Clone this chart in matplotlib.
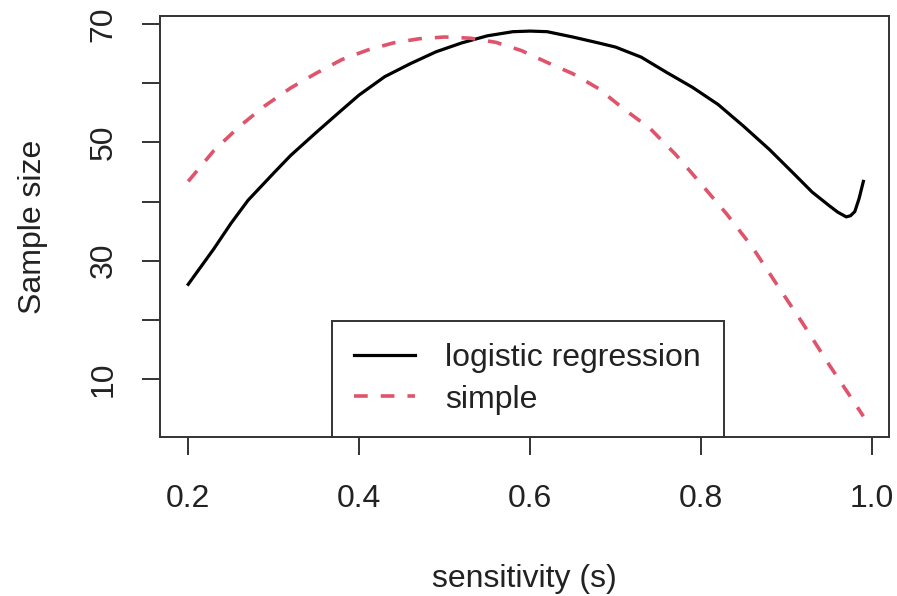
import matplotlib
matplotlib.use("Agg")
import matplotlib.pyplot as plt

plt.rcParams['font.family'] = ['Liberation Sans', 'DejaVu Sans']

# sensitivity grid and sample sizes
s_logistic = [0.20, 0.23, 0.25, 0.27, 0.30, 0.32, 0.35, 0.38, 0.40, 0.43, 0.46,
              0.49, 0.52, 0.55, 0.58, 0.60, 0.62, 0.65, 0.68, 0.70, 0.73, 0.76,
              0.79, 0.82, 0.85, 0.88, 0.91, 0.93, 0.95, 0.96, 0.97, 0.975,
              0.98, 0.985, 0.99]
n_logistic = [26.0, 32.0, 36.3, 40.2, 44.8, 47.8, 51.7, 55.5, 58.0, 61.1, 63.3,
              65.3, 66.8, 68.0, 68.7, 68.8, 68.7, 67.8, 66.8, 66.1, 64.4, 61.8,
              59.3, 56.4, 52.7, 48.8, 44.5, 41.6, 39.3, 38.2, 37.4, 37.6,
              38.3, 40.5, 43.4]

s_simple = [0.20, 0.23, 0.26, 0.29, 0.32, 0.35, 0.38, 0.41, 0.44, 0.47, 0.50,
            0.53, 0.56, 0.59, 0.62, 0.65, 0.68, 0.71, 0.74, 0.77, 0.80, 0.83,
            0.86, 0.89, 0.92, 0.95, 0.98, 0.99]
n_simple = [43.4, 48.6, 52.7, 56.2, 59.2, 61.7, 64.0, 65.6, 66.8, 67.5, 67.8,
            67.6, 66.9, 65.5, 63.5, 61.6, 59.1, 55.6, 52.4, 48.0, 43.0, 37.9,
            32.3, 25.7, 19.2, 12.4, 5.9, 3.7]

x_ticks = [0.2, 0.4, 0.6, 0.8, 1.0]
x_ticklabels = ["0.2", "0.4", "0.6", "0.8", "1.0"]
y_ticks = [10, 20, 30, 40, 50, 60, 70]
y_ticklabels = ["10", "", "30", "", "50", "", "70"]
series_labels = ["logistic regression", "simple"]

W, H = 897, 596
fig = plt.figure(figsize=(W / 100, H / 100), dpi=100)
ax = fig.add_axes([160 / W, 1 - 437 / H, (889 - 160) / W, (437 - 16) / H])

ax.plot(s_logistic, n_logistic, color='black', lw=2.3, label=series_labels[0],
        solid_joinstyle='round')
ax.plot(s_simple, n_simple, color='#DF536B', lw=2.6, dashes=(3.8, 3.6),
        label=series_labels[1])

ax.set_xlim(0.167, 1.020)
ax.set_ylim(0.2, 71.35)

fs = 23
ax.set_xticks(x_ticks)
ax.set_xticklabels(x_ticklabels, fontsize=fs, color='#222222')
ax.set_yticks(y_ticks)
ax.set_yticklabels(y_ticklabels, fontsize=fs, color='#222222', rotation=90,
                   va='center')
ax.tick_params(axis='x', length=13, width=1.4, pad=21, color='#333333')
ax.tick_params(axis='y', length=13, width=1.4, pad=17, color='#333333')
for sp in ax.spines.values():
    sp.set_linewidth(1.4)
    sp.set_color('#333333')

ax.set_xlabel("sensitivity (s)", fontsize=fs, color='#222222', labelpad=36)
ax.set_ylabel("Sample size", fontsize=fs, color='#222222', labelpad=29)

leg = ax.legend(loc='lower left', bbox_to_anchor=((332 - 160) / 729, 0.0),
                borderaxespad=0, fontsize=fs, frameon=True, fancybox=False,
                handlelength=1.9, handletextpad=0.95, borderpad=0.7,
                labelspacing=0.35)
leg.get_frame().set_edgecolor('#333333')
leg.get_frame().set_linewidth(1.4)
leg.get_frame().set_alpha(1)
for t in leg.get_texts():
    t.set_color('#222222')

fig.savefig("out.png", dpi=100, facecolor='white')
